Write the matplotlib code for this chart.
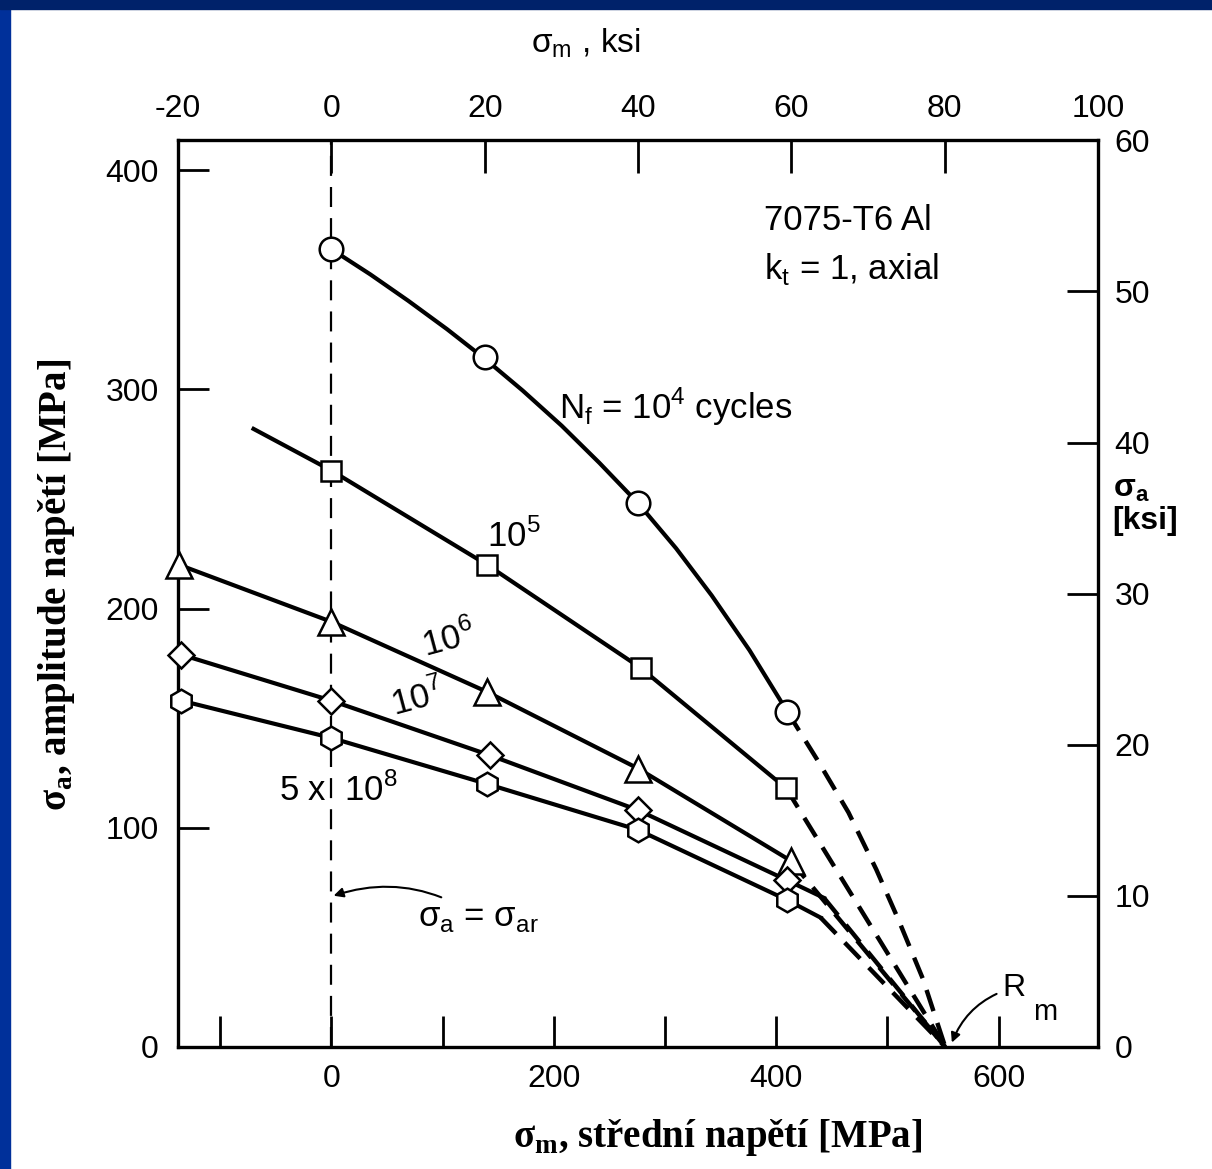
import matplotlib
matplotlib.use("Agg")
import matplotlib.pyplot as plt
from matplotlib.patches import Rectangle

plt.rcParams['font.family'] = ['Liberation Sans', 'DejaVu Sans']
plt.rcParams['axes.unicode_minus'] = False

KSI = 6.894757  # MPa per ksi
RM = 552

# N_f = 10^4 (circles)
line_sm_1e4 = [0, 35, 69, 104, 138, 172, 207, 241, 276, 310, 342, 376, 410]
line_sa_1e4 = [364, 352.5, 340.5, 327.5, 314, 299.5, 283.5, 266.5, 248, 227.5, 206, 181, 153]
mark_sm_1e4 = [0, 138, 276, 410]
mark_sa_1e4 = [364, 315, 248, 153]
tail_sm_1e4 = [410, 437, 465, 490, 510, 532, RM]
tail_sa_1e4 = [153, 131, 107, 81, 58, 31, 0]

# N_f = 10^5 (squares)
line_sm_1e5 = [-70, 0, 140, 278, 409]
line_sa_1e5 = [282, 263, 220, 173, 118]
mark_sm_1e5 = [0, 140, 278, 409]
mark_sa_1e5 = [263, 220, 173, 118]
tail_sm_1e5 = [409, RM]
tail_sa_1e5 = [118, 0]

# N_f = 10^6 (triangles)
line_sm_1e6 = [-137, 0, 140, 276, 413]
line_sa_1e6 = [220, 194, 162, 127, 85]
tail_sm_1e6 = [413, RM]
tail_sa_1e6 = [85, 0]

# N_f = 10^7 (diamonds)
mark_sm_1e7 = [-135, 0, 143, 276, 410]
mark_sa_1e7 = [179, 158, 133, 108, 76]
line_sm_1e7 = mark_sm_1e7 + [443]
line_sa_1e7 = mark_sa_1e7 + [68]
tail_sm_1e7 = [443, RM]
tail_sa_1e7 = [68, 0]

# N_f = 5x10^8 (hexagons)
mark_sm_5e8 = [-135, 0, 140, 276, 410]
mark_sa_5e8 = [158, 141, 120, 99, 67]
line_sm_5e8 = mark_sm_5e8 + [440]
line_sa_5e8 = mark_sa_5e8 + [59]
tail_sm_5e8 = [440, RM]
tail_sa_5e8 = [59, 0]

fig = plt.figure(figsize=(12.12, 11.69), dpi=100)
fig.patch.set_facecolor('white')
fig.patches.append(Rectangle((0, 0), 0.0085, 1, transform=fig.transFigure,
                             color='#00309a', zorder=-5))
fig.patches.append(Rectangle((0, 0.992), 1, 0.008, transform=fig.transFigure,
                             color='#00226a', zorder=-5))

ax = fig.add_axes([0.1469, 0.1044, 0.7591, 0.7756])
ax.set_xlim(-20 * KSI, 100 * KSI)
ax.set_ylim(0, 60 * KSI)

lw = 3.0
dash = (0, (5, 2.8))
mk = dict(mfc='white', mec='black', mew=1.8, ls='none', zorder=4, clip_on=False)

ax.plot(line_sm_1e4, line_sa_1e4, color='black', lw=lw)
ax.plot(mark_sm_1e4, mark_sa_1e4, marker='o', ms=17, **mk)
ax.plot(tail_sm_1e4, tail_sa_1e4, color='black', lw=3.2, ls=dash)

ax.plot(line_sm_1e5, line_sa_1e5, color='black', lw=lw)
ax.plot(mark_sm_1e5, mark_sa_1e5, marker='s', ms=14, **mk)
ax.plot(tail_sm_1e5, tail_sa_1e5, color='black', lw=3.2, ls=dash)

ax.plot(line_sm_1e6, line_sa_1e6, color='black', lw=lw)
ax.plot(line_sm_1e6, line_sa_1e6, marker='^', ms=19, **mk)
ax.plot(tail_sm_1e6, tail_sa_1e6, color='black', lw=3.2, ls=dash)

ax.plot(line_sm_1e7, line_sa_1e7, color='black', lw=lw)
ax.plot(mark_sm_1e7, mark_sa_1e7, marker='D', ms=13, **mk)
ax.plot(tail_sm_1e7, tail_sa_1e7, color='black', lw=3.2, ls=dash)

ax.plot(line_sm_5e8, line_sa_5e8, color='black', lw=lw)
ax.plot(mark_sm_5e8, mark_sa_5e8, marker='h', ms=17, **mk)
ax.plot(tail_sm_5e8, tail_sa_5e8, color='black', lw=3.2, ls=dash)

ax.axvline(0, color='black', lw=1.6, ls=(0, (9, 5)), zorder=1)

# axes styling
for s in ax.spines.values():
    s.set_linewidth(2.4)
ax.set_xticks([-100, 0, 100, 200, 300, 400, 500, 600])
ax.set_xticklabels(['', '0', '', '200', '', '400', '', '600'])
ax.set_yticks([0, 100, 200, 300, 400])
ax.tick_params(axis='both', direction='in', length=22, width=2.0,
               labelsize=23, pad=14)
ax.tick_params(axis='x', pad=12)

top = ax.secondary_xaxis('top', functions=(lambda v: v / KSI, lambda v: v * KSI))
top.set_xticks([-20, 0, 20, 40, 60, 80, 100])
top.tick_params(direction='in', length=24, width=2.0, labelsize=23, pad=12)

right = ax.secondary_yaxis('right', functions=(lambda v: v / KSI, lambda v: v * KSI))
right.set_yticks([0, 10, 20, 30, 40, 50, 60])
right.tick_params(direction='in', length=22, width=2.0, labelsize=23, pad=12)

# labels
serif = ['Liberation Serif', 'DejaVu Serif']
fig.text(0.047, 0.50, 'σ$_\\mathregular{a}$, amplitude napětí [MPa]', rotation=90,
         ha='center', va='center', fontsize=28, fontweight='bold', family=serif)
fig.text(0.592, 0.027, 'σ$_\\mathregular{m}$, střední napětí [MPa]',
         ha='center', va='center', fontsize=28, fontweight='bold', family=serif)
fig.text(0.483, 0.963, 'σ$_\\mathregular{m}$ , ksi', ha='center', va='center',
         fontsize=24)
fig.text(0.918, 0.568, 'σ$_\\mathregular{a}$\n[ksi]', ha='left', va='center',
         fontsize=23, fontweight='bold', linespacing=1.05)

# annotations
fs = 25
ax.text(389, 377, '7075-T6 Al', fontsize=fs, va='center')
ax.text(389, 355, 'k$_\\mathregular{t}$ = 1, axial', fontsize=fs, va='center')
ax.text(205, 292, 'N$_\\mathregular{f}$ = 10$^\\mathregular{4}$ cycles',
        fontsize=fs, va='center')
ax.text(140, 233, '10$^\\mathregular{5}$', fontsize=fs, va='center')
ax.text(78, 186, '10$^\\mathregular{6}$', fontsize=fs, va='center', rotation=15)
ax.text(50, 159, '10$^\\mathregular{7}$', fontsize=fs, va='center', rotation=15)
ax.text(-47, 117, '5 x  10$^\\mathregular{8}$', fontsize=fs, va='center')
ax.annotate('σ$_\\mathregular{a}$ = σ$_\\mathregular{ar}$', xy=(2, 69), xytext=(78, 59),
            fontsize=fs, va='center',
            arrowprops=dict(arrowstyle='-|>', color='black', lw=1.5,
                            mutation_scale=14, shrinkA=2, shrinkB=0,
                            connectionstyle='arc3,rad=0.25'))
ax.annotate('R', xy=(558, 2), xytext=(603, 27), fontsize=23, va='center',
            arrowprops=dict(arrowstyle='-|>', color='black', lw=1.5,
                            mutation_scale=14, shrinkA=2, shrinkB=0,
                            connectionstyle='arc3,rad=0.25'))
ax.text(631, 16, 'm', fontsize=21, va='center')

fig.savefig('out.png', dpi=100, facecolor=fig.get_facecolor())
